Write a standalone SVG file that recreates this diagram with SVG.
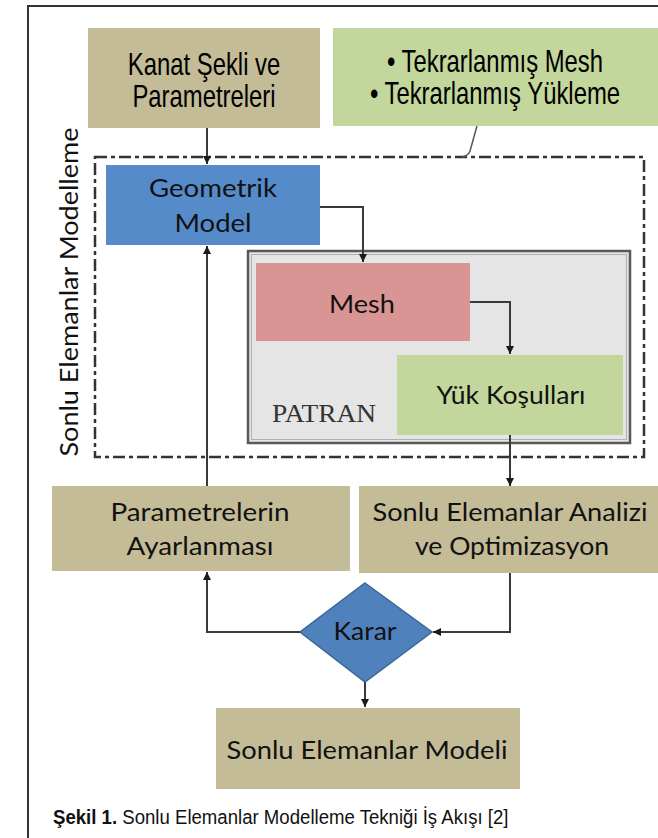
<svg xmlns="http://www.w3.org/2000/svg" width="658" height="838" viewBox="0 0 658 838">
<defs>
<marker id="arr" markerUnits="userSpaceOnUse" markerWidth="9" markerHeight="9" refX="8" refY="4" orient="auto">
<path d="M0,0 L8,4 L0,8 z" fill="#1a1a1a"/>
</marker>
<style>
.tan{fill:#c4bc96}
.grn{fill:#c3d69b}
.blue{fill:#568bca}
.pink{fill:#d99594}
.narrow{font-family:"Liberation Sans",Arial,sans-serif;font-size:31px;fill:#000;text-anchor:middle}
.cal{font-family:Lato,"Open Sans",sans-serif;font-size:25px;fill:#111;text-anchor:middle}
.con{fill:none;stroke:#3a3a3a;stroke-width:2}
</style>
</defs>
<rect width="658" height="838" fill="#fff"/>
<!-- frame -->
<path d="M28,838 V6 H658" fill="none" stroke="#333" stroke-width="2"/>

<g id="grup-sonlu-elemanlar-modelleme">
<rect x="95" y="157" width="549" height="300" fill="none" stroke="#333" stroke-width="2.5" stroke-dasharray="12 4 4 4"/>
<text class="cal" font-size="28" transform="translate(78,292) rotate(-90)" textLength="329" lengthAdjust="spacingAndGlyphs">Sonlu Elemanlar Modelleme</text>
</g>

<g id="patran">
<rect x="248" y="251" width="382" height="192" fill="#e5e5e5" stroke="#595959" stroke-width="2.5"/>
<rect x="251.5" y="254.5" width="375" height="185" fill="none" stroke="#b0b0b0" stroke-width="1"/>
<text x="324" y="422" font-family="'Liberation Serif','Times New Roman',serif" font-size="25" fill="#333" text-anchor="middle" textLength="104" lengthAdjust="spacingAndGlyphs">PATRAN</text>
</g>

<g id="kanat">
<rect class="tan" x="88" y="28" width="232" height="100"/>
<text class="narrow" transform="translate(204,75) scale(0.77,1)">Kanat Şekli ve</text>
<text class="narrow" transform="translate(204,107) scale(0.77,1)">Parametreleri</text>
</g>

<g id="tekrar">
<rect class="grn" x="333" y="28" width="325" height="98"/>
<text class="narrow" transform="translate(495,72) scale(0.77,1)">• Tekrarlanmış Mesh</text>
<text class="narrow" transform="translate(495,104) scale(0.77,1)">• Tekrarlanmış Yükleme</text>
</g>

<g id="geometrik">
<rect class="blue" x="106" y="165" width="214" height="80"/>
<text class="cal" x="213" y="197" textLength="128" lengthAdjust="spacingAndGlyphs">Geometrik</text>
<text class="cal" x="213" y="232" textLength="77" lengthAdjust="spacingAndGlyphs">Model</text>
</g>

<g id="mesh">
<rect class="pink" x="256" y="263" width="214" height="78"/>
<text class="cal" x="362" y="313" textLength="66" lengthAdjust="spacingAndGlyphs">Mesh</text>
</g>

<g id="yuk">
<rect class="grn" x="397" y="355" width="226" height="80"/>
<text class="cal" x="511" y="404" textLength="149" lengthAdjust="spacingAndGlyphs">Yük Koşulları</text>
</g>

<g id="parametrelerin">
<rect class="tan" x="52" y="486" width="298" height="85"/>
<text class="cal" x="200" y="521" textLength="179" lengthAdjust="spacingAndGlyphs">Parametrelerin</text>
<text class="cal" x="200" y="555" textLength="147" lengthAdjust="spacingAndGlyphs">Ayarlanması</text>
</g>

<g id="analiz">
<rect class="tan" x="359" y="486" width="299" height="87"/>
<text class="cal" x="510" y="521" textLength="275" lengthAdjust="spacingAndGlyphs">Sonlu Elemanlar Analizi</text>
<text class="cal" x="512" y="555" textLength="194" lengthAdjust="spacingAndGlyphs">ve Optimizasyon</text>
</g>

<g id="karar">
<path d="M365,583 L432,632 L365,682 L300,632 z" fill="#4f81bd" stroke="#3b6798" stroke-width="1.5"/>
<text class="cal" x="365" y="640" textLength="63" lengthAdjust="spacingAndGlyphs">Karar</text>
</g>

<g id="model">
<rect class="tan" x="216" y="708" width="304" height="81"/>
<text class="cal" x="367" y="759" textLength="281" lengthAdjust="spacingAndGlyphs">Sonlu Elemanlar Modeli</text>
</g>

<g id="connectors">
<path class="con" d="M207,128 V164" marker-end="url(#arr)"/>
<path d="M477,126 L470,151 Q468,156 462,157" fill="none" stroke="#555" stroke-width="1.5"/>
<path class="con" d="M320,207 H363 V262" marker-end="url(#arr)"/>
<path class="con" d="M470,302 H510 V354" marker-end="url(#arr)"/>
<path class="con" d="M510,435 V486" marker-end="url(#arr)"/>
<path class="con" d="M207,486 V246" marker-end="url(#arr)"/>
<path class="con" d="M510,573 V632 H433" marker-end="url(#arr)"/>
<path class="con" d="M300,632 H207 V572" marker-end="url(#arr)"/>
<path class="con" d="M365,682 V707" marker-end="url(#arr)"/>
</g>

<text transform="translate(53,824) scale(0.886,1)" font-family="'Liberation Sans',Arial,sans-serif" font-size="21" fill="#111"><tspan font-weight="bold">Şekil 1.</tspan> Sonlu Elemanlar Modelleme Tekniği İş Akışı [2]</text>
</svg>
